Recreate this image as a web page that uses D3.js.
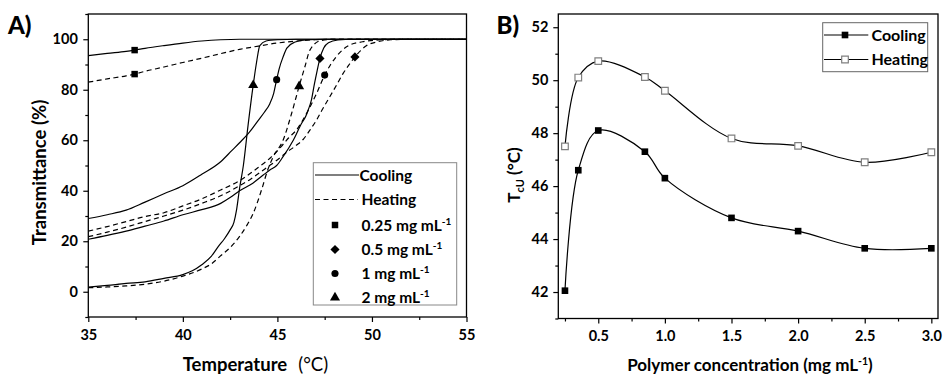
<!DOCTYPE html>
<html><head><meta charset="utf-8">
<script src="https://cdn.jsdelivr.net/npm/d3@7"></script>
<style>
body{margin:0;background:#fff;}
svg{display:block;font-family:Lato,'Open Sans',sans-serif;}
.tick text{font-family:Lato,'Open Sans',sans-serif;font-weight:bold;font-size:14.5px;fill:#000;}
</style></head>
<body><svg id="c" width="943" height="375"></svg>
<script>
// ---------- Panel A data: [temperature (°C), transmittance (%)] ----------
const cool025 = [[35,93.5],[36,94.4],[37,95.2],[37.45,95.7],[38,96.4],[39,97.5],[40,98.5],[41,99.3],[42,99.8],[43,100],[55,100]];
const heat025 = [[35,83],[36,84.3],[37,85.5],[37.45,86.2],[38,87.3],[39,89],[40,90.8],[41,92.5],[42,94.3],[43,96],[44,97.3],[45,98.5],[46,99.3],[47,99.8],[48,100],[55,100]];
const cool05 = [[35,20.8],[36,22.3],[37,24],[38,26],[39,28],[40,30.5],[41,32.5],[42,35],[42.5,37.3],[43,40],[43.7,43],[44.25,46.2],[44.6,48.2],[44.96,50],[45.3,53.5],[45.84,60],[46.28,66.7],[46.5,69.5],[46.63,72],[46.8,76],[46.95,82],[47.1,87.5],[47.25,92.4],[47.45,96.5],[47.7,98.6],[48.2,99.7],[49,100],[55,100]];
const heat05 = [[35,21.8],[36,23.6],[37,25.6],[38,27.8],[39,30],[40,32.3],[41,35],[42,38],[43,42],[43.5,44.2],[44,46.8],[44.5,49.5],[44.87,51.5],[45.5,55.3],[46,58],[46.36,60.3],[46.7,63.8],[47.07,68],[47.4,72.5],[47.77,77.2],[48.1,81.5],[48.47,86.4],[48.8,90],[49.1,93],[49.4,95.5],[49.7,97.4],[50.3,99],[51,99.8],[52,100],[55,100]];
const cool1 = [[35,29],[36,30.5],[37,32.3],[38,35.5],[39,38.8],[40,42],[41,46.5],[42,51.5],[42.6,56],[43,59],[43.5,63],[44,68],[44.3,71],[44.6,74.5],[44.8,78.5],[44.96,84],[45.1,88.5],[45.3,93],[45.5,96.5],[45.9,98.8],[46.5,99.7],[47.5,100],[55,100]];
const heat1 = [[35,24],[36,25.8],[37,27.8],[38,29.8],[39,31.3],[40,34],[41,36.8],[42,40.3],[43,44],[43.5,46.5],[44,49.3],[44.7,53.5],[45.2,57.5],[45.6,61],[46,64],[46.54,70.6],[47.07,78.5],[47.5,85.8],[47.8,89.8],[48.1,93],[48.45,95.8],[48.8,97.6],[49.5,99],[50.5,99.8],[51.5,100],[55,100]];
const cool2 = [[35,1.8],[36,2.5],[37,3.3],[38,3.9],[39,5.3],[40,6.8],[40.5,8.3],[41,10.7],[41.5,14],[41.87,17.9],[42.2,21],[42.5,24.5],[42.7,27.5],[42.84,32.4],[43,41],[43.2,50],[43.45,66],[43.72,81.8],[43.9,91],[44.07,97.5],[44.4,99.3],[45,99.8],[46,100],[55,100]];
const heat2 = [[35,1.6],[36,1.9],[37,2.3],[38,3],[39,4.2],[40,6.2],[41,9],[41.5,11],[41.96,14],[42.5,17.5],[43,21.9],[43.4,26.5],[43.72,31],[44.16,40.3],[44.5,48.5],[44.78,53.5],[45.3,60],[45.75,70.6],[46.15,81.4],[46.45,89],[46.72,95.7],[47.3,99.5],[48,100],[55,100]];
// marker points on each curve
const markCool = [[37.45,95.7],[47.25,92.4],[44.96,84],[43.72,81.8]];
const markHeat = [[37.45,86.2],[49.1,93],[47.5,85.8],[46.15,81.4]];
const concLabels = ["0.25","0.5","1","2"];
const xTicksA = [35,40,45,50,55];
const xMinorA = [37.5,42.5,47.5,52.5];
const yTicksA = [0,20,40,60,80,100];
const yMinorA = [-10,10,30,50,70,90,110];

// ---------- Panel B data ----------
const concB = [0.25,0.35,0.5,0.85,1.0,1.5,2.0,2.5,3.0];
const coolingB = [42.05,46.6,48.1,47.3,46.3,44.8,44.3,43.65,43.65];
const heatingB = [47.5,50.1,50.72,50.12,49.6,47.8,47.52,46.9,47.28];
const xTicksB = [0.5,1.0,1.5,2.0,2.5,3.0];
const xMinorB = [0.25,0.75,1.25,1.75,2.25,2.75];
const yTicksB = [42,44,46,48,50,52];
const yMinorB = [41,43,45,47,49,51];

const svg = d3.select("#c");
// marker shapes: square, diamond (rotated square), circle, triangle
const shapes = [d3.symbolSquare, d3.symbolSquare, d3.symbolCircle, d3.symbolTriangle];
const sizes = [42, 42, 40, 44];
const rot = [0, 45, 0, 0];

function axes(g, x, y, xt, xm, yt, ym, fmtX, xpad, ypad) {
  const h = y.range()[0], w = x.range()[1];
  const ax = g.append("g").attr("transform", `translate(0,${h})`)
    .call(d3.axisBottom(x).tickValues(xt).tickSize(5).tickPadding(xpad).tickFormat(fmtX));
  const axm = g.append("g").attr("transform", `translate(0,${h})`)
    .call(d3.axisBottom(x).tickValues(xm).tickSize(3).tickFormat(""));
  const ay = g.append("g").attr("transform", `translate(${x.range()[0]},0)`)
    .call(d3.axisLeft(y).tickValues(yt).tickSize(5).tickPadding(ypad));
  const aym = g.append("g").attr("transform", `translate(${x.range()[0]},0)`)
    .call(d3.axisLeft(y).tickValues(ym).tickSize(3).tickFormat(""));
  [ax, axm, ay, aym].forEach(a => { a.select(".domain").remove(); a.selectAll("line").attr("stroke", "#000").attr("stroke-width", 1.2); });
  g.append("rect").attr("x", x.range()[0]).attr("y", y.range()[1])
    .attr("width", w - x.range()[0]).attr("height", h - y.range()[1])
    .attr("fill", "none").attr("stroke", "#000").attr("stroke-width", 1.3);
}

// ================= Panel A =================
const xA = d3.scaleLinear().domain([35,55]).range([88.3,466.5]);
const yA = d3.scaleLinear().domain([-10,110]).range([317,14]);
const gA = svg.append("g");
gA.append("clipPath").attr("id","clipA").append("rect")
  .attr("x",88.3).attr("y",14).attr("width",466.5-88.3).attr("height",317-14);
const lineA = d3.line().x(d=>xA(d[0])).y(d=>yA(d[1])).curve(d3.curveMonotoneX);
const curvesCool = [cool025, cool05, cool1, cool2];
const curvesHeat = [heat025, heat05, heat1, heat2];
const cg = gA.append("g").attr("clip-path","url(#clipA)");
curvesCool.forEach(c => cg.append("path").attr("d", lineA(c)).attr("fill","none").attr("stroke","#000").attr("stroke-width",1.2));
curvesHeat.forEach(c => cg.append("path").attr("d", lineA(c)).attr("fill","none").attr("stroke","#000").attr("stroke-width",1.2).attr("stroke-dasharray","5,3.5"));
[markCool, markHeat].forEach(ms => ms.forEach((m,i) => {
  gA.append("path").attr("d", d3.symbol().type(shapes[i]).size(sizes[i])())
    .attr("transform", `translate(${xA(m[0])},${yA(m[1])}) rotate(${rot[i]})`).attr("fill","#000");
}));
axes(gA, xA, yA, xTicksA, xMinorA, yTicksA, yMinorA, d3.format("d"), 8, 5.5);

// legend A
const lg = gA.append("g");
lg.append("rect").attr("x",313.3).attr("y",162.7).attr("width",143.4).attr("height",142.3)
  .attr("fill","#fff").attr("stroke","#888").attr("stroke-width",1);
const rowsA = [175,199.5,225,249.5,273.5,297.5];
lg.append("line").attr("x1",315).attr("x2",359).attr("y1",rowsA[0]).attr("y2",rowsA[0]).attr("stroke","#000").attr("stroke-width",1.2);
lg.append("line").attr("x1",315).attr("x2",358).attr("y1",rowsA[1]).attr("y2",rowsA[1]).attr("stroke","#000").attr("stroke-width",1.2).attr("stroke-dasharray","5,3.5");
lg.append("text").attr("x",359.5).attr("y",rowsA[0]+5.5).attr("font-size",15.5).attr("font-weight","bold").text("Cooling");
lg.append("text").attr("x",361.5).attr("y",rowsA[1]+5.5).attr("font-size",15.5).attr("font-weight","bold").text("Heating");
concLabels.forEach((c,i) => {
  const yy = rowsA[i+2];
  lg.append("path").attr("d", d3.symbol().type(shapes[i]).size(sizes[i])())
    .attr("transform", `translate(335,${yy}) rotate(${rot[i]})`).attr("fill","#000");
  const t = lg.append("text").attr("x",361.5).attr("y",yy+5.5).attr("font-size",15.5).attr("font-weight","bold");
  t.append("tspan").text(c + " mg mL");
  t.append("tspan").attr("font-size",10).attr("dy",-6).text("-1");
});

// titles A
svg.append("text").attr("x",8).attr("y",33.5).attr("font-size",24).attr("font-weight","900").text("A)");
const tA = svg.append("text").attr("x",182.7).attr("y",370.7).attr("font-size",18.5);
tA.append("tspan").attr("font-weight","bold").text("Temperature");
tA.append("tspan").attr("dx",11).attr("font-weight","normal").text("(°C)");
svg.append("text").attr("transform","translate(46,172.5) rotate(-90)").attr("text-anchor","middle")
  .attr("font-size",18.5).attr("font-weight","bold").text("Transmittance (%)");

// ================= Panel B =================
const xB = d3.scaleLinear().domain([0.2,3.05]).range([558.3,938]);
const yB = d3.scaleLinear().domain([41,52.5]).range([318.5,14]);
const gB = svg.append("g");
const lineB = d3.line().x((d,i)=>xB(concB[i])).y(d=>yB(d)).curve(d3.curveCatmullRom.alpha(0.5));
gB.append("path").attr("d", lineB(coolingB)).attr("fill","none").attr("stroke","#000").attr("stroke-width",1.2);
gB.append("path").attr("d", lineB(heatingB)).attr("fill","none").attr("stroke","#000").attr("stroke-width",1.2);
const sq = d3.symbol().type(d3.symbolSquare).size(44)();
coolingB.forEach((v,i) => gB.append("path").attr("d",sq).attr("transform",`translate(${xB(concB[i])},${yB(v)})`).attr("fill","#000"));
heatingB.forEach((v,i) => gB.append("path").attr("d",sq).attr("transform",`translate(${xB(concB[i])},${yB(v)})`).attr("fill","#fff").attr("stroke","#808080").attr("stroke-width",1.2));
axes(gB, xB, yB, xTicksB, xMinorB, yTicksB, yMinorB, d3.format(".1f"), 7.5, 5);

// legend B
const lb = gB.append("g");
lb.append("rect").attr("x",822.7).attr("y",22.7).attr("width",105).attr("height",49)
  .attr("fill","#fff").attr("stroke","#666").attr("stroke-width",1);
[[35,"Cooling","#000","none"],[59.5,"Heating","#fff","#808080"]].forEach(r => {
  lb.append("line").attr("x1",824).attr("x2",868.3).attr("y1",r[0]).attr("y2",r[0]).attr("stroke","#000").attr("stroke-width",1.2);
  lb.append("path").attr("d",sq).attr("transform",`translate(845,${r[0]})`).attr("fill",r[2]).attr("stroke",r[3]).attr("stroke-width",1.2);
  lb.append("text").attr("x",871.5).attr("y",r[0]+5.5).attr("font-size",16).attr("font-weight","bold").text(r[1]);
});

// titles B
svg.append("text").attr("x",496.5).attr("y",33.5).attr("font-size",24).attr("font-weight","900").text("B)");
const tB = svg.append("text").attr("x",750).attr("y",371).attr("text-anchor","middle").attr("font-size",17).attr("font-weight","bold");
tB.append("tspan").text("Polymer concentration (mg mL");
tB.append("tspan").attr("font-size",10.5).attr("dy",-6).text("-1");
tB.append("tspan").attr("dy",6).text(")");
const yt = svg.append("text").attr("transform","translate(520,175) rotate(-90)").attr("text-anchor","middle").attr("font-size",17).attr("font-weight","bold");
yt.append("tspan").text("T");
yt.append("tspan").attr("font-size",11).attr("dy",4).text("cU");
yt.append("tspan").attr("dy",-4).text(" (°C)");
</script></body></html>
